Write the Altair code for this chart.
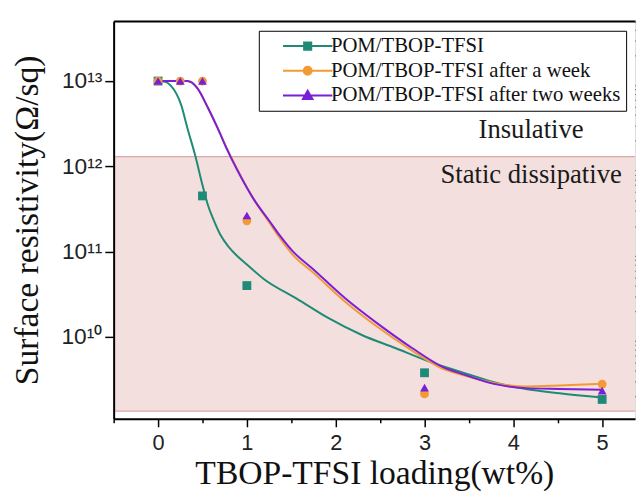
import altair as alt
import pandas as pd

# ---------------- data ----------------
series = ["POM/TBOP-TFSI", "POM/TBOP-TFSI after a week", "POM/TBOP-TFSI after two weeks"]
colors = ["#1f8a76", "#f39a36", "#7a1fd8"]
marker_shapes = ["square", "circle", "triangle-up"]
legend_paths = [
    "M-6.25,0H6.25M-0.9,-0.9H0.9V0.9H-0.9Z",
    "M-6.25,0H6.25M1,0A1,1 0 1,1 -1,0A1,1 0 1,1 1,0Z",
    "M-6.25,0H6.25M0,-1.2L1.2,0.9H-1.2Z",
]

# measured points
teal_x = [0, 0.5, 1, 3, 5]
teal_y = [1.0e13, 4.5e11, 4.0e10, 3.8e9, 1.85e9]
orange_x = [0, 0.25, 0.5, 1, 3, 5]
orange_y = [1.0e13, 1.0e13, 1.0e13, 2.3e11, 2.15e9, 2.8e9]
purple_x = [0, 0.25, 0.5, 1, 3, 5]
purple_y = [1.0e13, 1.0e13, 1.0e13, 2.65e11, 2.55e9, 2.35e9]

# fitted curves (log10 of resistivity)
teal_fit_x = [0, 0.08, 0.14, 0.26, 0.33, 0.42, 0.5, 0.56, 0.63, 0.7, 0.8, 0.9, 1.0, 1.19,
              1.56, 1.92, 2.3, 2.67, 3.03, 3.41, 3.78, 4.14, 4.52, 5.0]
teal_fit_log = [13.0, 12.99, 12.95, 12.72, 12.45, 12.12, 11.78, 11.55, 11.36, 11.2, 11.05, 10.94,
                10.85, 10.68, 10.45, 10.22, 10.02, 9.87, 9.72, 9.59, 9.47, 9.39, 9.34, 9.29]
orange_fit_x = [0, 0.33, 0.44, 0.56, 0.67, 0.78, 0.89, 1.08, 1.26, 1.37, 1.52, 1.74,
                2.11, 2.48, 2.86, 3.22, 3.41, 3.78, 4.14, 4.52, 5.0]
orange_fit_log = [13.0, 13.0, 12.92, 12.69, 12.45, 12.2, 11.97, 11.61, 11.33, 11.16, 10.96, 10.76,
                  10.41, 10.11, 9.84, 9.62, 9.56, 9.46, 9.42, 9.43, 9.45]
purple_fit_x = [0, 0.33, 0.44, 0.56, 0.67, 0.78, 0.89, 1.08, 1.26, 1.37, 1.52, 1.74,
                2.11, 2.48, 2.86, 3.22, 3.41, 3.78, 4.14, 4.52, 5.0]
purple_fit_log = [13.0, 13.0, 12.92, 12.69, 12.45, 12.19, 11.96, 11.61, 11.35, 11.19, 11.0, 10.8,
                  10.45, 10.15, 9.87, 9.64, 9.57, 9.45, 9.4, 9.39, 9.38]

# zone and annotations
zone_x = [-0.5, 5.5]
zone_y = [1.35e9, 1.3e12]
note_text = ["Insulative", "Static dissipative"]
note_x = [4.2, 4.2]
note_y = [2.14e12, 6.4e11]

# axes
x_domain = [-0.5, 5.37]
y_domain = [1.096e9, 5.07e13]
x_major = [0, 1, 2, 3, 4, 5]
x_minor = [-0.5, 0.5, 1.5, 2.5, 3.5, 4.5]
y_major = [1e10, 1e11, 1e12, 1e13]
y_major_text = ["10\u00b9\u2070", "10\u00b9\u00b9", "10\u00b9\u00b2", "10\u00b9\u00b3"]
y_minor = [k * 10.0 ** n for n in (9, 10, 11, 12, 13) for k in range(2, 10)
           if y_domain[0] <= k * 10.0 ** n <= y_domain[1]]

# ---------------- tables ----------------
pts = pd.concat([
    pd.DataFrame({"x": teal_x, "y": teal_y, "series": series[0]}),
    pd.DataFrame({"x": orange_x, "y": orange_y, "series": series[1]}),
    pd.DataFrame({"x": purple_x, "y": purple_y, "series": series[2]}),
])
fits = pd.concat([
    pd.DataFrame({"x": teal_fit_x, "y": [10 ** v for v in teal_fit_log], "series": series[0]}),
    pd.DataFrame({"x": orange_fit_x, "y": [10 ** v for v in orange_fit_log], "series": series[1]}),
    pd.DataFrame({"x": purple_fit_x, "y": [10 ** v for v in purple_fit_log], "series": series[2]}),
])
zone = pd.DataFrame({"x0": [zone_x[0]], "x1": [zone_x[1]], "y0": [zone_y[0]], "y1": [zone_y[1]]})
notes = pd.DataFrame({"x": note_x, "y": note_y, "t": note_text})

xs = alt.Scale(domain=x_domain, nice=False, zero=False)
ys = alt.Scale(type="log", domain=y_domain, nice=False)
cs = alt.Scale(domain=series, range=colors)

label_expr = " : ".join(
    f"abs(log(datum.value)/LN10 - {len(str(int(v))) - 1}) < 0.01 ? '{t}'"
    for v, t in zip(y_major, y_major_text)
) + " : ''"

sans = "Liberation Sans"
serif = "Liberation Serif"

x_axis_major = alt.Axis(values=x_major, format="d", tickSize=8, tickWidth=1.5, tickColor="black",
                        domainColor="black", domainWidth=2, labelFont=sans, labelFontSize=22,
                        labelColor="#222", labelPadding=6, title="TBOP-TFSI loading(wt%)",
                        titleFont=serif, titleFontSize=34, titleFontWeight="normal",
                        titleColor="#111", titlePadding=3, grid=False, zindex=2)
x_axis_minor = alt.Axis(values=x_minor, labels=False, tickSize=4, tickWidth=1.5, tickColor="black",
                        domain=False, title=None, grid=False, zindex=2)
y_axis_major = alt.Axis(values=y_major, labelExpr=label_expr, tickSize=9, tickWidth=1.5,
                        tickColor="black", domainColor="black", domainWidth=2, labelFont=sans,
                        labelFontSize=23, labelColor="#222", labelPadding=3,
                        title="Surface resistivity(\u03a9/sq)", titleFont=serif, titleFontSize=34,
                        titleFontWeight="normal", titleColor="#111", titlePadding=17,
                        grid=False, zindex=2)
y_axis_minor = alt.Axis(values=y_minor, labels=False, tickSize=4, tickWidth=1.2, tickColor="#333",
                        domain=False, title=None, grid=False, zindex=2)

shade = alt.Chart(zone).mark_rect(fill="#f3dfdd", stroke="#d8a8a8", strokeWidth=1.5,
                                  clip=True).encode(
    x=alt.X("x0:Q", scale=xs, axis=alt.Axis(orient="top", labels=False, ticks=False, title=None,
                                           domainWidth=2, domainColor="black", grid=False,
                                           zindex=2)),
    x2="x1:Q",
    y=alt.Y("y0:Q", scale=ys, axis=None),
    y2="y1:Q",
)

lines = alt.Chart(fits).mark_line(strokeWidth=2, clip=True, interpolate="monotone").encode(
    x=alt.X("x:Q", scale=xs, axis=x_axis_major),
    y=alt.Y("y:Q", scale=ys, axis=y_axis_major),
    color=alt.Color("series:N", scale=cs, legend=None),
)

points = alt.Chart(pts).mark_point(filled=True, opacity=1, size=80).encode(
    x=alt.X("x:Q", scale=xs, axis=x_axis_minor),
    y=alt.Y("y:Q", scale=ys, axis=y_axis_minor),
    color=alt.Color("series:N", scale=cs, legend=None),
    shape=alt.Shape("series:N", scale=alt.Scale(domain=series, range=marker_shapes), legend=None),
)

text = alt.Chart(notes).mark_text(font=serif, fontSize=27, color="#1a1a1a", align="center",
                                  baseline="alphabetic").encode(
    x=alt.X("x:Q", scale=xs, axis=None),
    y=alt.Y("y:Q", scale=ys, axis=None),
    text="t:N",
)

leg = alt.Legend(title=None, orient="none", legendX=147, legendY=10, strokeColor="black",
                 fillColor="white", padding=5, symbolSize=64, symbolStrokeWidth=2,
                 symbolOffset=34, labelOffset=13, labelFont=serif, labelFontSize=21,
                 labelColor="#111", rowPadding=3, labelLimit=0)

legend_layer = alt.Chart(pts).transform_filter("false").mark_point(
    filled=True, opacity=1, strokeWidth=2).encode(
    x=alt.X("x:Q", scale=xs, axis=None),
    y=alt.Y("y:Q", scale=ys, axis=None),
    fill=alt.Fill("series:N", scale=alt.Scale(domain=series, range=colors), legend=leg),
    stroke=alt.Stroke("series:N", scale=alt.Scale(domain=series, range=colors), legend=leg),
    shape=alt.Shape("series:N", scale=alt.Scale(domain=series, range=legend_paths), legend=leg),
)

chart = alt.layer(shade, lines, points, text, legend_layer).resolve_scale(
    shape="independent", fill="independent", stroke="independent"
).resolve_axis(
    x="independent", y="independent"
).properties(
    width=528, height=403,
    autosize=alt.AutoSizeParams(type="none"),
    padding={"left": 107, "top": 10, "right": 1, "bottom": 70},
).configure_view(stroke=None).configure(background="white")

chart.save("out.html", embed_options={"renderer": "svg", "actions": False})
